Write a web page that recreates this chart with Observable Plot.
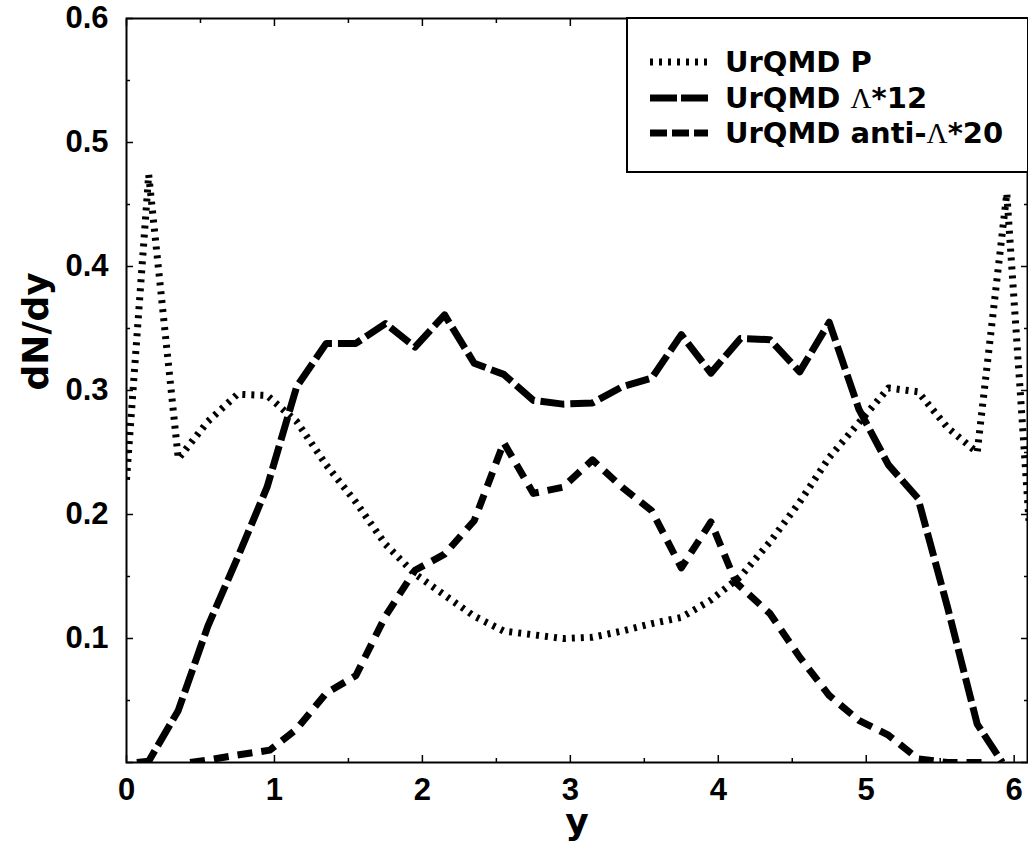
<!DOCTYPE html>
<html>
<head>
<meta charset="utf-8">
<script src="https://cdn.jsdelivr.net/npm/d3@7"></script>
<script src="https://cdn.jsdelivr.net/npm/@observablehq/plot@0.6"></script>
<style>
  html, body { margin: 0; padding: 0; background: #fff; }
  #wrap { position: relative; width: 1028px; height: 846px; }
  #legend {
    position: absolute; left: 626px; top: 17px; width: 399px; height: 152px;
    border: 2px solid #000; background: #fff; box-sizing: content-box;
    font-family: "DejaVu Sans", sans-serif; font-weight: bold; font-size: 29px; color: #000;
  }
  .row { position: absolute; left: 0; height: 36px; width: 395px; }
  .row svg { position: absolute; left: 22px; top: 0; }
  .row .lbl { position: absolute; left: 97px; top: 0; white-space: nowrap; line-height: 36px; }
  .lam { font-family: "Liberation Serif", "DejaVu Serif", serif; font-weight: normal; }
</style>
</head>
<body>
<div id="wrap"></div>
<script>
// ---- data ----
const protonX = [0, 0.15, 0.35, 0.55, 0.75, 0.95, 1.15, 1.35, 1.55, 1.75, 1.95, 2.15, 2.35, 2.55, 2.75, 2.95, 3.15, 3.35, 3.55, 3.75, 3.95, 4.15, 4.35, 4.55, 4.75, 4.95, 5.15, 5.35, 5.55, 5.75, 5.95, 6.1];
const protonY = [0.228, 0.474, 0.245, 0.275, 0.297, 0.296, 0.275, 0.240, 0.210, 0.176, 0.152, 0.135, 0.118, 0.106, 0.103, 0.100, 0.101, 0.106, 0.112, 0.117, 0.131, 0.150, 0.178, 0.210, 0.246, 0.274, 0.302, 0.299, 0.270, 0.250, 0.459, 0.195];

const lambdaX = [0.07, 0.15, 0.35, 0.55, 0.75, 0.95, 1.15, 1.35, 1.55, 1.75, 1.95, 2.15, 2.35, 2.55, 2.75, 2.95, 3.15, 3.35, 3.55, 3.75, 3.95, 4.15, 4.35, 4.55, 4.75, 4.95, 5.15, 5.35, 5.55, 5.75, 5.92];
const lambdaY = [0.0, 0.001, 0.042, 0.110, 0.165, 0.222, 0.303, 0.338, 0.338, 0.354, 0.335, 0.361, 0.322, 0.313, 0.292, 0.289, 0.290, 0.303, 0.310, 0.345, 0.314, 0.342, 0.341, 0.315, 0.355, 0.285, 0.240, 0.213, 0.125, 0.031, 0.0];

const antiX = [0.43, 0.55, 0.75, 0.97, 1.15, 1.35, 1.55, 1.75, 1.95, 2.15, 2.35, 2.55, 2.75, 2.95, 3.15, 3.35, 3.55, 3.75, 3.95, 4.12, 4.35, 4.55, 4.75, 4.95, 5.15, 5.35, 5.55, 5.78];
const antiY = [0.0, 0.002, 0.006, 0.010, 0.027, 0.056, 0.070, 0.118, 0.155, 0.168, 0.195, 0.258, 0.217, 0.222, 0.244, 0.222, 0.203, 0.157, 0.194, 0.145, 0.120, 0.085, 0.054, 0.034, 0.022, 0.003, 0.0, 0.0];

const xTicks = [0, 1, 2, 3, 4, 5, 6];
const xMinor = [0.5, 1.5, 2.5, 3.5, 4.5, 5.5];
const yTicks = [0, 0.1, 0.2, 0.3, 0.4, 0.5, 0.6];
const yLabels = [0.1, 0.2, 0.3, 0.4, 0.5, 0.6];
const yMinor = [0.05, 0.15, 0.25, 0.35, 0.45, 0.55];

const seriesNames = ["UrQMD P", "UrQMD Λ*12", "UrQMD anti-Λ*20"];

const proton = protonX.map((x, i) => ({x, y: protonY[i]}));
const lambda = lambdaX.map((x, i) => ({x, y: lambdaY[i]}));
const anti = antiX.map((x, i) => ({x, y: antiY[i]}));

// ---- styles ----
const styles = [
  {strokeWidth: 7, strokeDasharray: "3,6", strokeLinecap: "butt"},
  {strokeWidth: 7, strokeDasharray: "24,6", strokeLinecap: "butt"},
  {strokeWidth: 7, strokeDasharray: "15,9", strokeLinecap: "butt"}
];
const legendDash = ["3,6", "27,4", "17,5"];

const MAJ = 7, MIN = 4;
const tk = {fill: "none", label: null, strokeWidth: 1.5};

const chart = Plot.plot({
  width: 1028,
  height: 846,
  marginLeft: 126,
  marginRight: 1,
  marginTop: 18,
  marginBottom: 84,
  style: {fontFamily: "'Liberation Sans', Arial, sans-serif", fontWeight: "bold", fontSize: "31px", color: "#000", background: "#fff"},
  x: {domain: [0, 6.09]},
  y: {domain: [0, 0.6]},
  marks: [
    Plot.line(proton, {x: "x", y: "y", stroke: "#000", clip: true, ...styles[0]}),
    Plot.line(lambda, {x: "x", y: "y", stroke: "#000", clip: true, ...styles[1]}),
    Plot.line(anti, {x: "x", y: "y", stroke: "#000", clip: true, ...styles[2]}),
    Plot.frame({stroke: "#000", strokeWidth: 2}),
    // inward ticks (shifted into the frame)
    Plot.axisX({anchor: "bottom", ticks: xTicks, tickSize: MAJ, dy: -MAJ, ...tk}),
    Plot.axisX({anchor: "bottom", ticks: xMinor, tickSize: MIN, dy: -MIN, ...tk}),
    Plot.axisX({anchor: "top", ticks: xTicks, tickSize: MAJ, dy: MAJ, ...tk}),
    Plot.axisX({anchor: "top", ticks: xMinor, tickSize: MIN, dy: MIN, ...tk}),
    Plot.axisY({anchor: "left", ticks: yTicks, tickSize: MAJ, dx: MAJ, ...tk}),
    Plot.axisY({anchor: "left", ticks: yMinor, tickSize: MIN, dx: MIN, ...tk}),
    Plot.axisY({anchor: "right", ticks: yTicks, tickSize: MAJ, dx: -MAJ, ...tk}),
    Plot.axisY({anchor: "right", ticks: yMinor, tickSize: MIN, dx: -MIN, ...tk}),
    // tick labels
    Plot.axisX({anchor: "bottom", ticks: xTicks, tickSize: 0, tickPadding: 15, tickFormat: d => String(d), label: null, fontSize: 31}),
    Plot.axisY({anchor: "left", ticks: yLabels, tickSize: 0, tickPadding: 18, tickFormat: d3.format(".1f"), label: null, fontSize: 31}),
    // axis titles
    Plot.text(["dN/dy"], {frameAnchor: "left", text: d => d, rotate: -90, dx: -90, fontSize: 36, fontFamily: "'DejaVu Sans', sans-serif", fontWeight: "bold", fill: "#000"}),
    Plot.text(["y"], {frameAnchor: "bottom", text: d => d, dy: 71, fontSize: 36, fontFamily: "'DejaVu Sans', sans-serif", fontWeight: "bold", fill: "#000"})
  ]
});

const wrap = document.getElementById("wrap");
wrap.appendChild(chart);

// legend
const legend = document.createElement("div");
legend.id = "legend";
const rowCenters = [62, 98, 133]; // page coordinates of each legend row's centre
seriesNames.forEach((name, i) => {
  const row = document.createElement("div");
  row.className = "row";
  row.style.top = (rowCenters[i] - 18 - 19) + "px";
  const s = styles[i];
  row.innerHTML = `<svg width="60" height="36"><line x1="0" y1="18" x2="58" y2="18" stroke="#000" stroke-width="${s.strokeWidth}" stroke-dasharray="${legendDash[i]}"/></svg>`;
  const span = document.createElement("span");
  span.className = "lbl";
  span.innerHTML = name.replace("Λ", '<span class="lam">Λ</span>');
  row.appendChild(span);
  legend.appendChild(row);
});
wrap.appendChild(legend);
</script>
</body>
</html>
